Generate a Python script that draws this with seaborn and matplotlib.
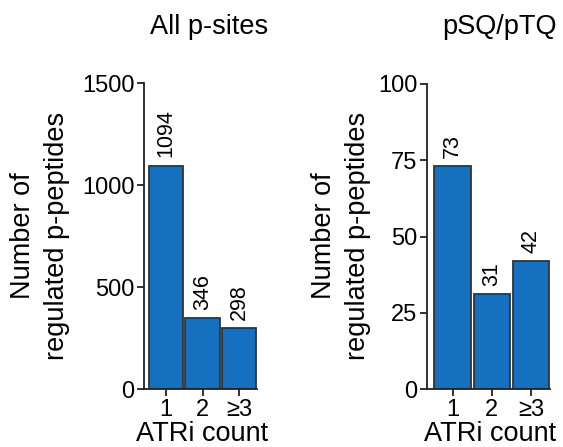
import matplotlib
matplotlib.use("Agg")
import matplotlib.pyplot as plt
import seaborn as sns
import pandas as pd

categories = ["1", "2", "\u22653"]
all_sites = [1094, 346, 298]
sq_tq = [73, 31, 42]
titles = ["All p-sites", "pSQ/pTQ"]
ylabel = "Number of\nregulated p-peptides"
xlabel = "ATRi count"

sns.set_theme(style="ticks")
plt.rcParams['font.family'] = ['Liberation Sans', 'DejaVu Sans']
plt.rcParams['text.color'] = 'black'

fig = plt.figure(figsize=(5.63, 4.47), dpi=100)
W, H = 563, 447

def px_axes(x0, x1, ytop, ybot):
    return fig.add_axes([x0 / W, 1 - ybot / H, (x1 - x0) / W, (ybot - ytop) / H])

ax1 = px_axes(144, 257, 83, 389)
ax2 = px_axes(427, 550, 84, 389)

color = "#1570C0"
specs = [
    (ax1, all_sites, 1500, [0, 500, 1000, 1500], (-0.60, 2.49), 0.94, 209, 40),
    (ax2, sq_tq, 100, [0, 25, 50, 75, 100], (-0.65, 2.48), 0.92, 499, 341),
]

for i, (ax, vals, ymax, yt, xl, bw, tx, lx) in enumerate(specs):
    df = pd.DataFrame({"cat": categories, "val": vals})
    sns.barplot(data=df, x="cat", y="val", ax=ax, color=color, saturation=1,
                width=bw, edgecolor="#333333", linewidth=1.3)
    ax.set_ylim(0, ymax)
    ax.set_xlim(*xl)
    ax.set_yticks(yt)
    ax.set_xlabel("")
    ax.set_ylabel("")
    for s in ["top", "right"]:
        ax.spines[s].set_visible(False)
    for s in ["left", "bottom"]:
        ax.spines[s].set_linewidth(1.3)
        ax.spines[s].set_color("#222222")
    ax.tick_params(axis="both", labelsize=17, width=1.3, length=5, color="#222222",
                   labelcolor="black", pad=2)
    for j, v in enumerate(vals):
        ax.annotate(str(v), (j, v), xytext=(0, 6), textcoords="offset points",
                    rotation=90, ha="center", va="bottom", fontsize=15.5, color="black")
    fig.text(tx / W, 1 - 27 / H, titles[i], ha="center", va="center", fontsize=19.5)
    fig.text(lx / W, 1 - 236 / H, ylabel, ha="center", va="center", rotation=90,
             fontsize=19.5, linespacing=1.4)
    pos = ax.get_position()
    fig.text((pos.x0 + pos.x1) / 2 + 2 / W, 1 - 434 / H, xlabel, ha="center",
             va="center", fontsize=19.5)

fig.savefig("out.png", dpi=100)
